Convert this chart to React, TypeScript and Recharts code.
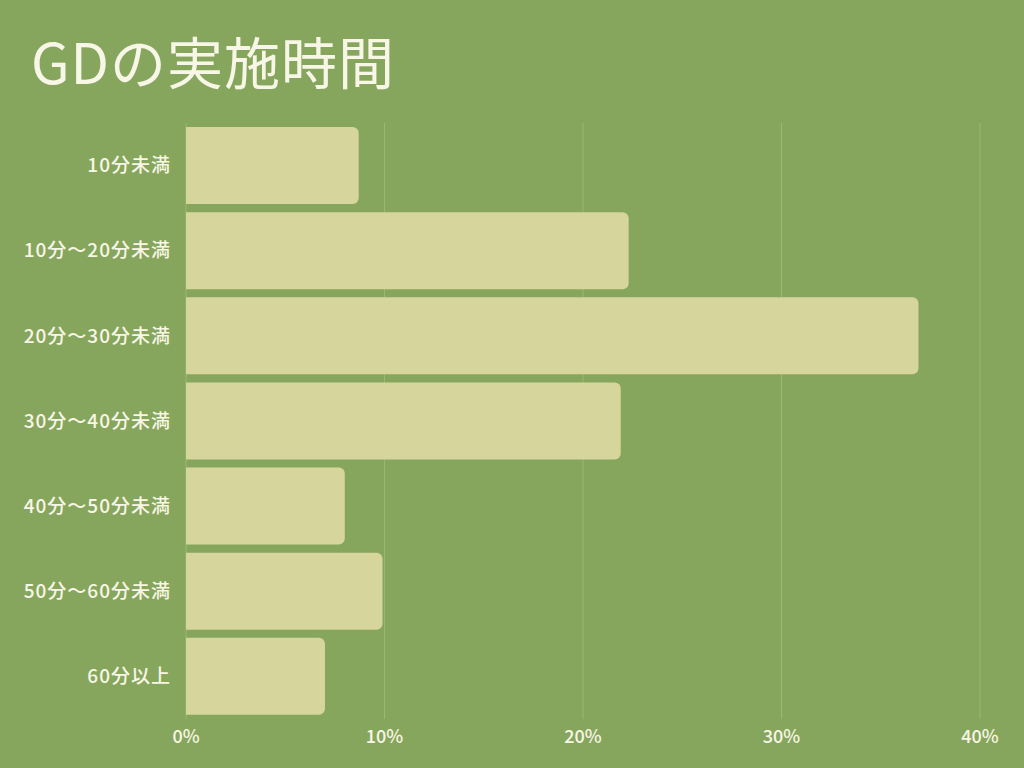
import React from "react";
import { BarChart, Bar, XAxis, YAxis, CartesianGrid } from "recharts";

// GDの実施時間 (share of respondents)
const categories = [
  "10分未満",
  "10分〜20分未満",
  "20分〜30分未満",
  "30分〜40分未満",
  "40分〜50分未満",
  "50分〜60分未満",
  "60分以上",
];
const shares = [8.7, 22.3, 36.9, 21.9, 8.0, 9.9, 7.0];
const xTicks = [0, 10, 20, 30, 40];

const data = categories.map((name, i) => ({ name, value: shares[i] }));

const BG = "#87a65d";
const BAR = "#d6d59c";
const TEXT = "#f8f6e6";
const FONT = "'Noto Sans CJK JP', 'Noto Sans', sans-serif";

export default function App() {
  return (
    <div
      style={{
        position: "fixed",
        left: 0,
        top: 0,
        width: 1024,
        height: 768,
        background: BG,
        fontFamily: FONT,
      }}
    >
      <div
        style={{
          position: "absolute",
          left: 31,
          top: 26,
          fontSize: 56,
          fontWeight: 400,
          color: TEXT,
          lineHeight: 1.2,
          letterSpacing: 1,
        }}
      >
        GDの実施時間
      </div>
      <BarChart
        width={1024}
        height={768}
        layout="vertical"
        data={data}
        margin={{ top: 123, right: 44, bottom: 19, left: 0 }}
        barCategoryGap={4}
      >
        <CartesianGrid horizontal={false} stroke="#9bb677" strokeWidth={1} />
        <XAxis
          type="number"
          domain={[0, 40]}
          ticks={xTicks}
          tickFormatter={(v) => `${v}%`}
          axisLine={false}
          tickLine={false}
          tickSize={0}
          tickMargin={11}
          height={30}
          tick={{ fill: TEXT, fontSize: 18, fontWeight: 500, fontFamily: FONT }}
        />
        <YAxis
          type="category"
          dataKey="name"
          width={186}
          axisLine={false}
          tickLine={false}
          tickSize={0}
          tickMargin={15}
          tick={{
            fill: TEXT,
            fontSize: 19,
            fontWeight: 500,
            fontFamily: FONT,
            letterSpacing: 1,
          }}
        />
        <Bar
          dataKey="value"
          fill={BAR}
          radius={[0, 6, 6, 0]}
          isAnimationActive={false}
        />
      </BarChart>
    </div>
  );
}
